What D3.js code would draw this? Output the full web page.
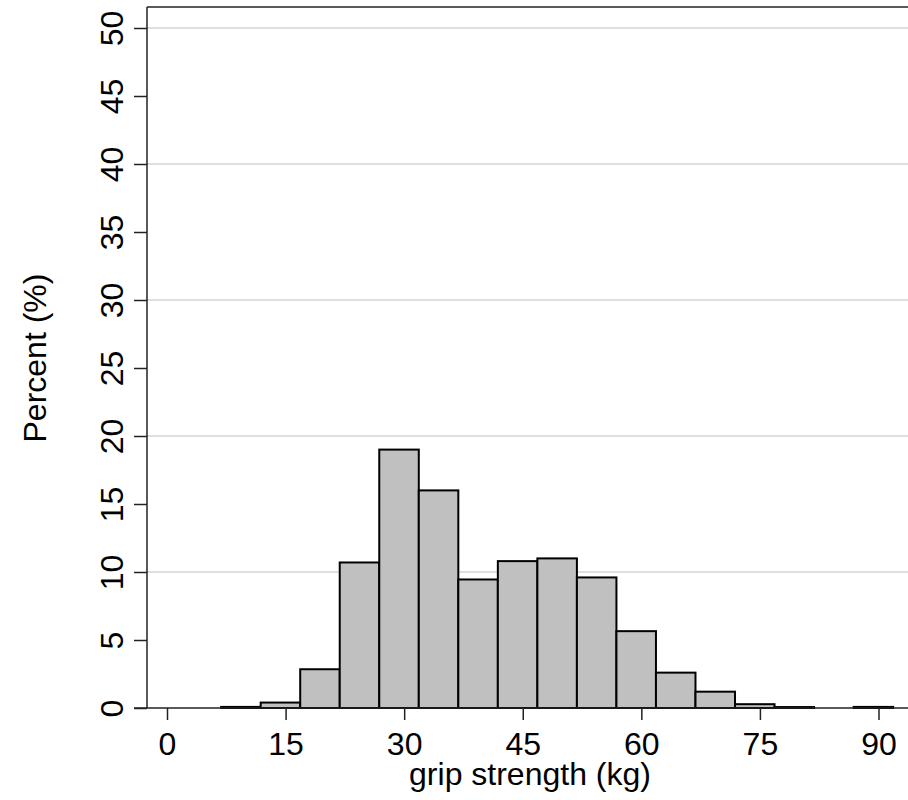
<!DOCTYPE html>
<html>
<head>
<meta charset="utf-8">
<script src="https://cdn.jsdelivr.net/npm/d3@7"></script>
<style>
  html, body { margin: 0; padding: 0; background: #fff; }
  svg { display: block; font-family: "Liberation Sans", Arial, Helvetica, sans-serif; }
</style>
</head>
<body>
<svg id="chart" width="908" height="800"></svg>
<script>
// Histogram data: bin starts (kg), bin width, percent per bin
const binStart = 6.85;
const binWidth = 5.0;
const percents = [0.08, 0.4, 2.85, 10.7, 19.0, 16.0, 9.45, 10.8, 11.0, 9.6, 5.65, 2.6, 1.2, 0.28, 0.07, 0, 0.08];
const xTicks = [0, 15, 30, 45, 60, 75, 90];
const yTicks = [0, 5, 10, 15, 20, 25, 30, 35, 40, 45, 50];
const gridTicks = [10, 20, 30, 40, 50];
const xTitle = "grip strength (kg)";
const yTitle = "Percent (%)";

const bins = percents.map((p, i) => ({ x0: binStart + i * binWidth, x1: binStart + (i + 1) * binWidth, p }));

const svg = d3.select("#chart");
const mLeft = 147, mBottom = 708, mTop = 7, mRight = 908;

const x = d3.scaleLinear().domain([0, 90]).range([167, 878.5]);
const y = d3.scaleLinear().domain([0, 50]).range([708, 28]);

// gridlines
svg.append("g").selectAll("line").data(gridTicks).join("line")
  .attr("x1", mLeft).attr("x2", mRight)
  .attr("y1", d => y(d)).attr("y2", d => y(d))
  .attr("stroke", "#dedede").attr("stroke-width", 2);

// top frame line
svg.append("line").attr("x1", mLeft).attr("x2", mRight).attr("y1", mTop).attr("y2", mTop)
  .attr("stroke", "#222").attr("stroke-width", 1.5);

// bars
svg.append("g").selectAll("rect").data(bins.filter(d => d.p > 0)).join("rect")
  .attr("x", d => x(d.x0))
  .attr("width", d => x(d.x1) - x(d.x0))
  .attr("y", d => y(d.p))
  .attr("height", d => y(0) - y(d.p))
  .attr("fill", "#c0c0c0")
  .attr("stroke", "#000")
  .attr("stroke-width", 2);

// x axis
const xAxis = svg.append("g").attr("transform", `translate(0,${mBottom})`)
  .call(d3.axisBottom(x).tickValues(xTicks).tickSize(12).tickPadding(12).tickFormat(d3.format("d")));
xAxis.select(".domain").remove();
xAxis.append("line").attr("x1", 134).attr("x2", mRight).attr("y1", 0).attr("y2", 0)
  .attr("stroke", "#222").attr("stroke-width", 1.5);
xAxis.selectAll(".tick line").attr("stroke", "#222").attr("stroke-width", 1.5);
xAxis.selectAll(".tick text").attr("font-size", 32).attr("fill", "#000")
  .attr("font-family", '"Liberation Sans", Arial, sans-serif');

// y axis
const yAxis = svg.append("g").attr("transform", `translate(${mLeft},0)`)
  .call(d3.axisLeft(y).tickValues(yTicks).tickSize(13).tickFormat(d3.format("d")));
yAxis.select(".domain").remove();
yAxis.append("line").attr("x1", 0).attr("x2", 0).attr("y1", mTop).attr("y2", mBottom)
  .attr("stroke", "#222").attr("stroke-width", 1.5);
yAxis.selectAll(".tick line").attr("stroke", "#222").attr("stroke-width", 1.5);
yAxis.selectAll(".tick text")
  .attr("font-size", 32).attr("fill", "#000")
  .attr("font-family", '"Liberation Sans", Arial, sans-serif')
  .attr("x", null).attr("dy", null)
  .attr("text-anchor", "middle")
  .attr("transform", "translate(-24,0) rotate(-90)");

// titles
svg.append("text").attr("x", 530).attr("y", 785)
  .attr("text-anchor", "middle").attr("font-size", 32).attr("fill", "#000")
  .text(xTitle);
svg.append("text").attr("transform", "translate(46,358) rotate(-90)")
  .attr("text-anchor", "middle").attr("font-size", 32).attr("fill", "#000")
  .text(yTitle);
</script>
</body>
</html>
